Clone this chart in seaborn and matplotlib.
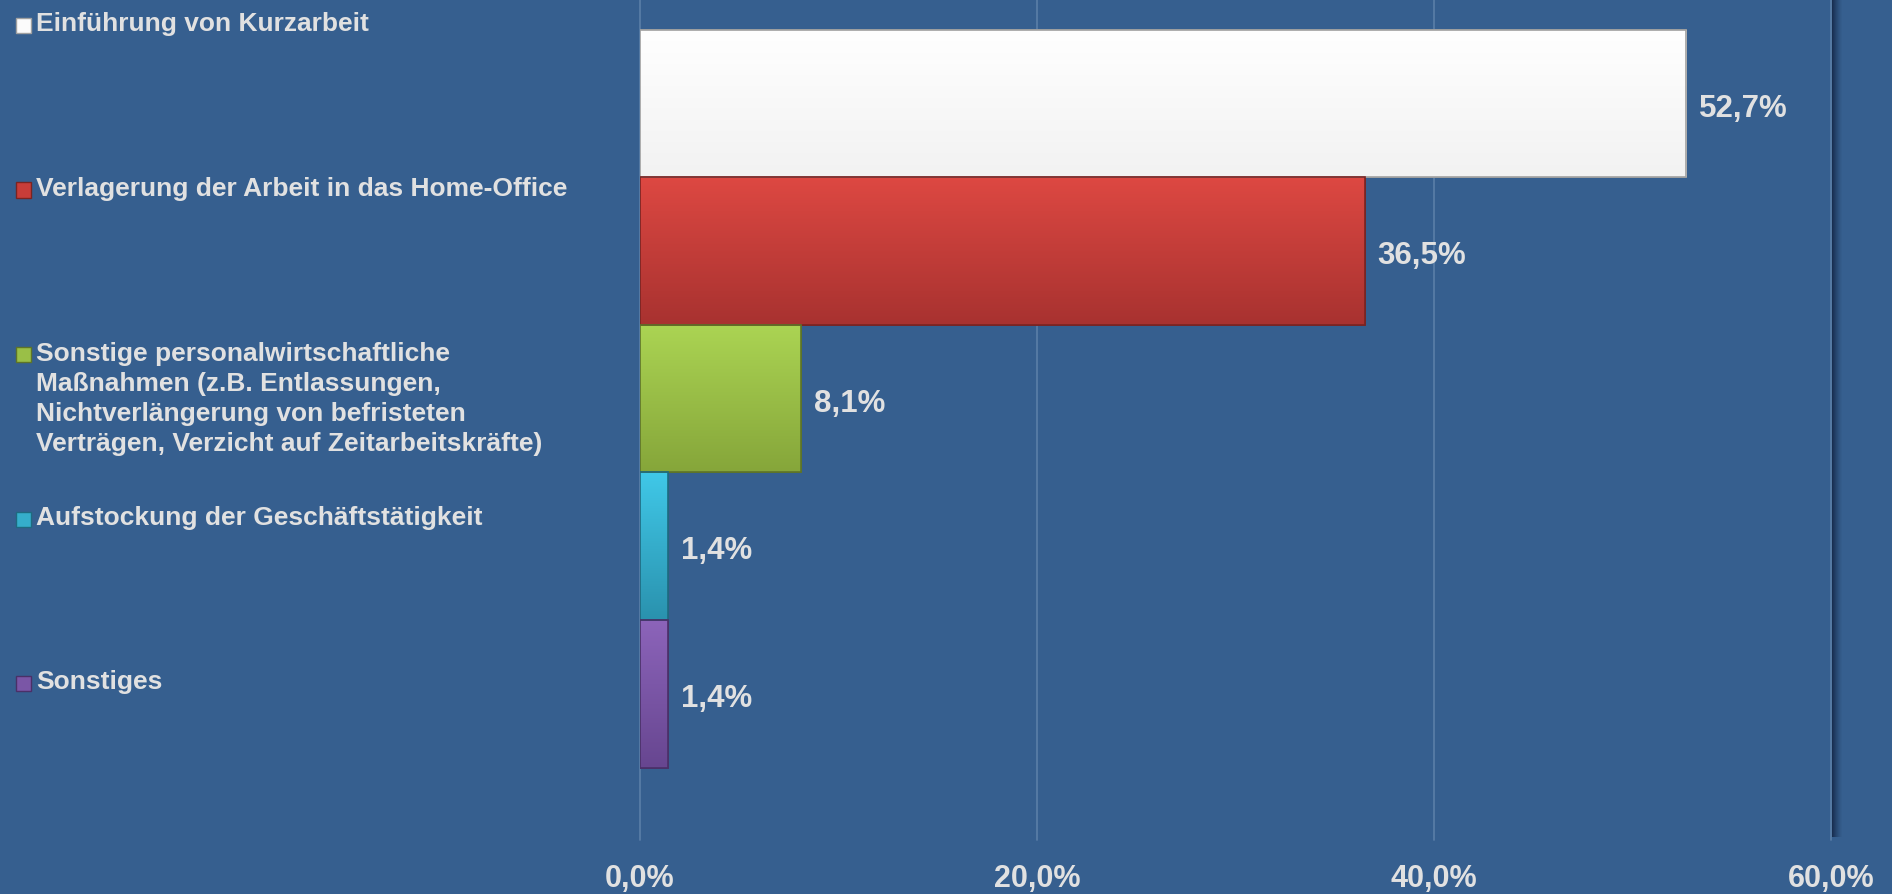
import matplotlib
matplotlib.use("Agg")
import matplotlib.pyplot as plt
import matplotlib.colors as mcolors
import numpy as np
import pandas as pd
import seaborn as sns
from matplotlib.patches import Rectangle

categories = [
    "Einführung von Kurzarbeit",
    "Verlagerung der Arbeit in das Home-Office",
    "Sonstige personalwirtschaftliche\nMaßnahmen (z.B. Entlassungen,\nNichtverlängerung von befristeten\nVerträgen, Verzicht auf Zeitarbeitskräfte)",
    "Aufstockung der Geschäftstätigkeit",
    "Sonstiges",
]
values = [52.7, 36.5, 8.1, 1.4, 1.4]
value_labels = ["52,7%", "36,5%", "8,1%", "1,4%", "1,4%"]
x_ticks = [0, 20, 40, 60]
x_ticklabels = ["0,0%", "20,0%", "40,0%", "60,0%"]

# top / bottom shades for the bar gradients
colors_top = ["#ffffff", "#dd4842", "#abd453", "#40c8e8", "#8c64ba"]
colors_bottom = ["#f2f2f2", "#a83230", "#86a63a", "#2a92ae", "#674690"]
colors_mid = ["#fbfbfb", "#c83d39", "#9abf47", "#35aecb", "#7a56a6"]
colors_edge = ["#a0a0a0", "#7a2422", "#5e7428", "#1f6a80", "#4a3068"]

bg = "#365f8f"
txt = "#e1e1e1"
W, H = 1892, 894

sns.set_style("white")
plt.rcParams["font.family"] = ["Liberation Sans", "DejaVu Sans"]

df = pd.DataFrame({"cat": categories, "val": values})

fig = plt.figure(figsize=(W / 100, H / 100), dpi=100, facecolor=bg)
ax = fig.add_axes([640 / W, 54 / H, (1831 - 640) / W, 840 / H])
ax.set_facecolor(bg)

sns.barplot(data=df, y="cat", x="val", hue="cat", palette=colors_mid,
            orient="h", width=1.0, legend=False, ax=ax, zorder=3)

# gradient fill clipped to each bar
for i, p in enumerate(ax.patches):
    p.set_edgecolor(colors_edge[i])
    p.set_linewidth(1.2)
    x0, y0 = p.get_x(), p.get_y()
    w, h = p.get_width(), p.get_height()
    cmap = mcolors.LinearSegmentedColormap.from_list(
        "g%d" % i, [colors_top[i], colors_bottom[i]])
    grad = np.linspace(0, 1, 100).reshape(-1, 1)
    im = ax.imshow(grad, cmap=cmap, aspect="auto", zorder=3.5,
                   extent=(x0, x0 + w, y0 + h, y0), interpolation="bilinear")
    im.set_clip_path(p)
    ax.add_patch(Rectangle((x0, y0), w, h, fill=False,
                           edgecolor=colors_edge[i], linewidth=1.2, zorder=4))
    ax.text(values[i] + 0.65, i + 0.012, value_labels[i], color=txt, fontsize=22.5,
            fontweight="bold", va="center_baseline", ha="left", zorder=5)

ax.set_xlim(0, 60)
ax.set_ylim(4.99, -0.70)
ax.set_xticks(x_ticks)
ax.set_xticklabels(x_ticklabels, color=txt, fontsize=22, fontweight="bold")
ax.set_yticks([])
ax.set_xlabel("")
ax.set_ylabel("")
ax.tick_params(axis="x", length=0, pad=17)
for s in ax.spines.values():
    s.set_visible(False)

for xv in x_ticks:
    ax.axvline(xv, color="#587ca6", linewidth=1.3, zorder=1, clip_on=False)

# dark shadow right of the plot area
for k in range(10):
    fig.patches.append(Rectangle(((1832 + k) / W, 57 / H), 1 / W, 837 / H,
                                 transform=fig.transFigure, facecolor="#15294a",
                                 alpha=0.9 * (1 - k / 10) ** 1.3,
                                 edgecolor="none", figure=fig))

# legend-style labels on the left
for i, cat in enumerate(categories):
    base = 34 + i * 164.5
    fig.text(36 / W, 1 - (base - 21.5) / H, cat, color=txt, fontsize=19,
             fontweight="bold", va="top", ha="left", linespacing=1.32)
    fig.patches.append(Rectangle((16 / W, 1 - (base - 1) / H), 15 / W, 15 / H,
                                 transform=fig.transFigure,
                                 facecolor=colors_mid[i], edgecolor=colors_edge[i],
                                 linewidth=1, figure=fig))

fig.savefig("out.png", dpi=100, facecolor=bg)
